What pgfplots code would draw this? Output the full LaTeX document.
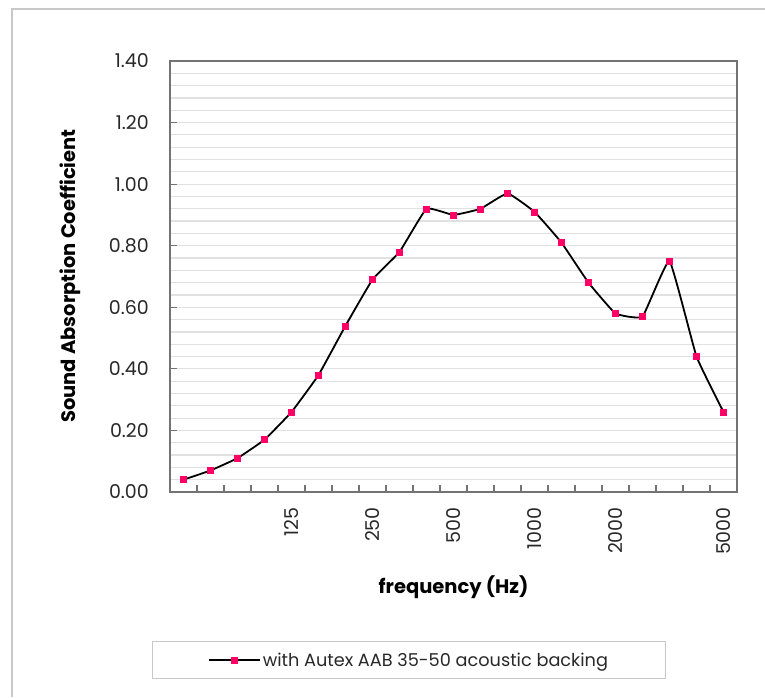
\documentclass[border=0pt]{standalone}
\usepackage{fontspec}
\setmainfont{Poppins}
\usepackage{pgfplots}
\pgfplotsset{compat=1.18}
\definecolor{mk}{RGB}{255,0,102}
\definecolor{axgray}{RGB}{115,115,115}
\definecolor{gridgray}{RGB}{225,225,225}
\definecolor{framegray}{RGB}{200,200,200}
\definecolor{txt}{RGB}{40,40,40}
\begin{document}
\begin{tikzpicture}[x=1pt,y=1pt]
\useasboundingbox (0,0) rectangle (765,697);
\draw[framegray,line width=1.5pt] (12,0) -- (12,688) -- (765,688);
\begin{axis}[
  at={(170pt,205pt)}, anchor=south west,
  scale only axis, width=567pt, height=431pt,
  xmin=-0.5, xmax=20.5, ymin=0, ymax=1.4,
  tick pos=left,
  xtick={0.5,1.5,...,19.5}, xticklabels={},
  extra x ticks={4,7,10,13,16,20},
  extra x tick labels={125,250,500,1000,2000,5000},
  extra x tick style={major tick length=0pt},
  ytick={0,0.2,0.4,0.6,0.8,1.0,1.2,1.4},
  minor y tick num=4,
  ymajorgrids, yminorgrids,
  major grid style={gridgray, line width=1.2pt},
  minor grid style={gridgray, line width=1.2pt},
  major tick length=7pt, minor tick length=0pt,
  tick style={axgray, line width=1.2pt},
  axis line style={axgray, line width=1.6pt},
  tick label style={font=\fontsize{19}{19}\selectfont, text=txt},
  xticklabel style={rotate=90, anchor=east, inner sep=0pt},
  xticklabel shift=15pt,
  yticklabel style={anchor=east, inner sep=0pt,
    /pgf/number format/.cd, fixed, fixed zerofill, precision=2, assume math mode=true},
  yticklabel shift=21pt,
  xlabel={frequency (Hz)},
  ylabel={Sound Absorption Coefficient},
  xlabel style={at={(axis description cs:0.5,-0.2204)}, anchor=center,
    font=\fontsize{19.5}{19.5}\selectfont\bfseries, text=black},
  ylabel style={at={(axis description cs:-0.176,0.501)}, anchor=center, rotate=0,
    font=\fontsize{19.5}{19.5}\selectfont\bfseries, text=black},
  legend style={at={(axis description cs:0.4215,-0.39)}, anchor=center,
    draw=framegray, line width=1pt, inner xsep=55pt, inner ysep=9pt,
    font=\fontsize{17.7}{17.7}\selectfont, text=txt},
  legend image code/.code={\draw[mark repeat=2,mark phase=2,#1] plot coordinates {(0pt,0pt) (25pt,0pt) (51pt,0pt)};},
]
\addplot[black, line width=1.8pt, smooth, tension=0.2, mark=square*, mark size=3pt,
  mark options={fill=mk, draw=mk, line width=0.5pt}]
  coordinates {
  (0,0.04) (1,0.07) (2,0.11) (3,0.17) (4,0.26) (5,0.38) (6,0.54) (7,0.69)
  (8,0.78) (9,0.92) (10,0.90) (11,0.92) (12,0.97) (13,0.91) (14,0.81)
  (15,0.68) (16,0.58) (17,0.57) (18,0.75) (19,0.44) (20,0.26)};
\addlegendentry{with Autex AAB 35-50 acoustic backing}
\end{axis}
\end{tikzpicture}
\end{document}
